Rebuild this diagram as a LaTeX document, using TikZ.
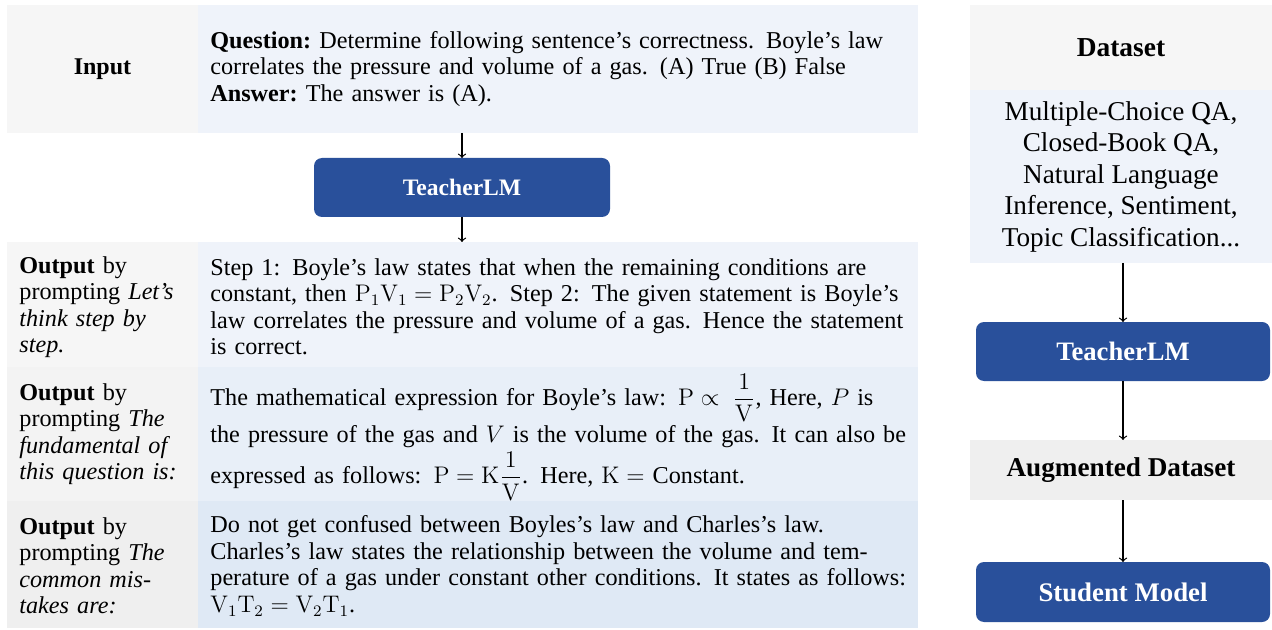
\documentclass[tikz,border=0pt]{standalone}
\usepackage{amsmath}
\usepackage[no-math]{fontspec}
\setmainfont{Liberation Serif}
\definecolor{dblue}{RGB}{41,80,155}
\definecolor{gA}{RGB}{246,246,246}
\definecolor{gB}{RGB}{243,243,243}
\definecolor{gC}{RGB}{239,239,239}
\definecolor{bA}{RGB}{239,243,250}
\definecolor{bB}{RGB}{232,239,248}
\definecolor{bC}{RGB}{223,233,245}
\begin{document}
\begin{tikzpicture}[x=0.5pt,y=-0.5pt,
  cell/.style={rectangle,inner sep=0pt,outer sep=0pt,draw=none},
  body/.style={font=\fontsize{12.1}{13.25}\selectfont,align=left,inner sep=0pt,anchor=west},
  lab/.style={body,text width=90pt},
  txt/.style={body,text width=354pt},
  model/.style={rectangle,rounded corners=4pt,fill=dblue,text=white,inner sep=0pt,outer sep=0pt},
  arr/.style={->,line width=0.6pt}]
\useasboundingbox (0,0) rectangle (1272,630);
% ---------- left panel ----------
\node[cell,fill=gA,minimum width=95.5pt,minimum height=64pt] (inL) at (102.5,69) {};
\node[cell,fill=bA,minimum width=360pt,minimum height=64pt] (inC) at (558,69) {};
\node[font=\fontsize{12}{13.25}\selectfont\bfseries] (inT) at (102.5,69) {Input};
\node[txt] (inX) at (210,69) {\textbf{Question:}\ Determine following sentence's correctness. Boyle's law\\
correlates the pressure and volume of a gas. (A) True (B) False\\
\textbf{Answer:}\ The answer is (A).};

\node[model,minimum width=148pt,minimum height=29.5pt,font=\fontsize{11.8}{13.25}\selectfont\bfseries] (tl) at (462,187.5) {TeacherLM};

\node[cell,fill=gA,minimum width=95.5pt,minimum height=62.5pt] (o1L) at (102.5,304.5) {};
\node[cell,fill=bA,minimum width=360pt,minimum height=62.5pt] (o1C) at (558,304.5) {};
\node[cell,fill=gB,minimum width=95.5pt,minimum height=67pt] (o2L) at (102.5,434) {};
\node[cell,fill=bB,minimum width=360pt,minimum height=67pt] (o2C) at (558,434) {};
\node[cell,fill=gC,minimum width=95.5pt,minimum height=63.5pt] (o3L) at (102.5,564.5) {};
\node[cell,fill=bC,minimum width=360pt,minimum height=63.5pt] (o3C) at (558,564.5) {};

\node[lab] (o1T) at (19,307) {\textbf{Output} by\\ prompting \textit{Let's}\\ \textit{think step by}\\ \textit{step.}};
\node[txt] (o1X) at (210,307) {Step 1: Boyle's law states that when the remaining conditions are\\
constant, then $\mathrm{P_1V_1=P_2V_2}$. Step 2: The given statement is Boyle's\\
law correlates the pressure and volume of a gas. Hence the statement\\
is correct.};

\node[lab] (o2T) at (19,434) {\textbf{Output} by\\ prompting \textit{The}\\ \textit{fundamental of}\\ \textit{this question is:}};
\node[txt] (o2X) at (210,437) {The mathematical expression for Boyle's law: $\mathrm{P}\propto\;\dfrac{1}{\mathrm{V}}$, Here, $P$ is\\[1pt]
the pressure of the gas and $V$ is the volume of the gas. It can also be\\[1pt]
expressed as follows: $\mathrm{P}=\mathrm{K}\dfrac{1}{\mathrm{V}}$. Here, $\mathrm{K}=$ Constant.};

\node[lab] (o3T) at (19,566) {\textbf{Output} by\\ prompting \textit{The}\\ \textit{common mis-}\\ \textit{takes are:}};
\node[txt] (o3X) at (210,566) {Do not get confused between Boyles's law and Charles's law.\\
Charles's law states the relationship between the volume and tem-\\
perature of a gas under constant other conditions. It states as follows:\\
$\mathrm{V_1T_2=V_2T_1}$.};

\draw[arr] (inC.south -| tl.north) -- (tl.north);
\draw[arr] (tl.south) -- (o1C.north -| tl.south);

% ---------- right panel ----------
\node[cell,fill=gA,minimum width=151pt,minimum height=42.5pt,font=\fontsize{13.7}{15.75}\selectfont\bfseries] (dsH) at (1121,47.5) {Dataset};
\node[cell,fill=bA,minimum width=151pt,minimum height=86.5pt,font=\fontsize{13.6}{15.75}\selectfont,align=center] (dsC) at (1121,176.5) {Multiple-Choice QA,\\ Closed-Book QA,\\ Natural Language\\ Inference, Sentiment,\\ Topic Classification...};
\node[model,minimum width=147pt,minimum height=29.5pt,font=\fontsize{13.3}{15}\selectfont\bfseries] (tr) at (1123,351.5) {TeacherLM};
\node[cell,fill=gC,minimum width=151pt,minimum height=30pt,font=\fontsize{13.6}{15}\selectfont\bfseries] (aug) at (1121,470) {Augmented Dataset};
\node[model,minimum width=147pt,minimum height=30pt,font=\fontsize{13.4}{15}\selectfont\bfseries] (st) at (1123,592) {Student Model};

\draw[arr] (dsC.south -| tr.north) -- (tr.north);
\draw[arr] (tr.south) -- (aug.north -| tr.south);
\draw[arr] (aug.south -| st.north) -- (st.north);
\end{tikzpicture}
\end{document}
